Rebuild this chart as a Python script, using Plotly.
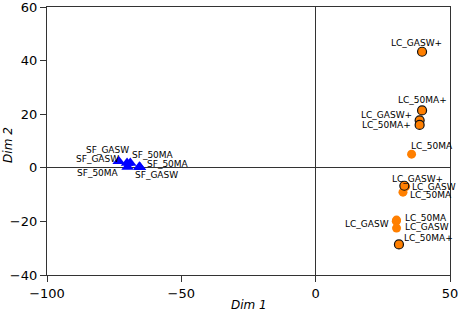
import plotly.graph_objects as go

# SF group (blue triangles)
sf_names = ["SF_GASW", "SF_GASW", "SF_50MA", "SF_50MA", "SF_50MA", "SF_GASW"]
sf_x = [-73.3, -70.2, -69.0, -65.6, -70.0, -65.4]
sf_y = [2.4, 1.8, 1.8, 0.4, 0.3, 0.2]

# LC group without "+" (orange, no outline)
lc_names = ["LC_50MA", "LC_GASW", "LC_50MA", "LC_50MA", "LC_GASW", "LC_GASW"]
lc_x = [35.7, 33.5, 32.5, 30.1, 30.0, 30.1]
lc_y = [5.1, -7.0, -9.1, -19.5, -19.9, -22.5]

# LC "+" group (orange, black outline)
lcp_names = ["LC_GASW+", "LC_50MA+", "LC_GASW+", "LC_50MA+", "LC_GASW+", "LC_50MA+"]
lcp_x = [39.6, 39.6, 38.7, 38.7, 33.0, 31.0]
lcp_y = [43.3, 21.4, 17.7, 16.0, -6.7, -28.6]

# label placement (xanchor, xshift, yshift) per point
sf_lab = [("center", -11, 11), ("right", -6, 4), ("left", 0, 8),
          ("left", 6, 3), ("right", -7, -6), ("left", -7, -8)]
lc_lab = [("left", -3, 8), ("left", 4, 0), ("left", 5, -3),
          ("left", 6, 2), ("right", -5, -3), ("left", 6, 1)]
lcp_lab = [("center", -6, 9), ("center", 0, 10), ("right", -6, 5),
           ("right", -7, 0), ("center", 13, 7), ("left", 3, 6)]

BLUE = "#0000ff"
ORANGE = "#ff7f00"
FONT = "DejaVu Sans"

fig = go.Figure()
fig.add_trace(go.Scatter(x=sf_x, y=sf_y, mode="markers",
                         marker=dict(symbol="triangle-up", size=11, color=BLUE,
                                     line=dict(width=0))))
fig.add_trace(go.Scatter(x=lc_x, y=lc_y, mode="markers",
                         marker=dict(symbol="circle", size=9, color=ORANGE,
                                     line=dict(width=0))))
fig.add_trace(go.Scatter(x=lcp_x, y=lcp_y, mode="markers",
                         marker=dict(symbol="circle", size=9, color=ORANGE,
                                     line=dict(width=1.2, color="#111111"))))

annots = []
for names, xs, ys, labs in [(sf_names, sf_x, sf_y, sf_lab),
                            (lc_names, lc_x, lc_y, lc_lab),
                            (lcp_names, lcp_x, lcp_y, lcp_lab)]:
    for n, x, y, (anc, xs_, ys_) in zip(names, xs, ys, labs):
        annots.append(dict(x=x, y=y, text=n, showarrow=False, xanchor=anc,
                           yanchor="middle", xshift=xs_, yshift=ys_,
                           font=dict(family=FONT, size=9, color="#000000")))

annots.append(dict(xref="paper", yref="paper", x=0.5, y=-0.112, text="<i>Dim 1</i>",
                   showarrow=False, xanchor="center", yanchor="middle",
                   font=dict(family=FONT, size=12, color="#000000")))
annots.append(dict(xref="paper", yref="paper", x=-0.097, y=0.485, text="<i>Dim 2</i>",
                   showarrow=False, xanchor="center", yanchor="middle", textangle=-90,
                   font=dict(family=FONT, size=12, color="#000000")))

axis_common = dict(showgrid=False, zeroline=True, zerolinecolor="#333333", zerolinewidth=1,
                   showline=True, linecolor="#333333", linewidth=1.2, mirror=True,
                   ticks="outside", ticklen=6, tickcolor="#333333", tickwidth=1.2,
                   automargin=False, ticklabeloverflow="allow",
                   tickfont=dict(family=FONT, size=13, color="#000000"))

fig.update_layout(
    width=459, height=313,
    margin=dict(l=47, r=9, t=7, b=38),
    plot_bgcolor="white", paper_bgcolor="white",
    showlegend=False,
    annotations=annots,
    xaxis=dict(range=[-100, 50], tickvals=[-100, -50, 0, 50], **axis_common),
    yaxis=dict(range=[-40, 60], tickvals=[-40, -20, 0, 20, 40, 60], **axis_common),
)

fig.write_html("out.html", config={"displayModeBar": False},
               post_script="document.body.style.margin='0';")
